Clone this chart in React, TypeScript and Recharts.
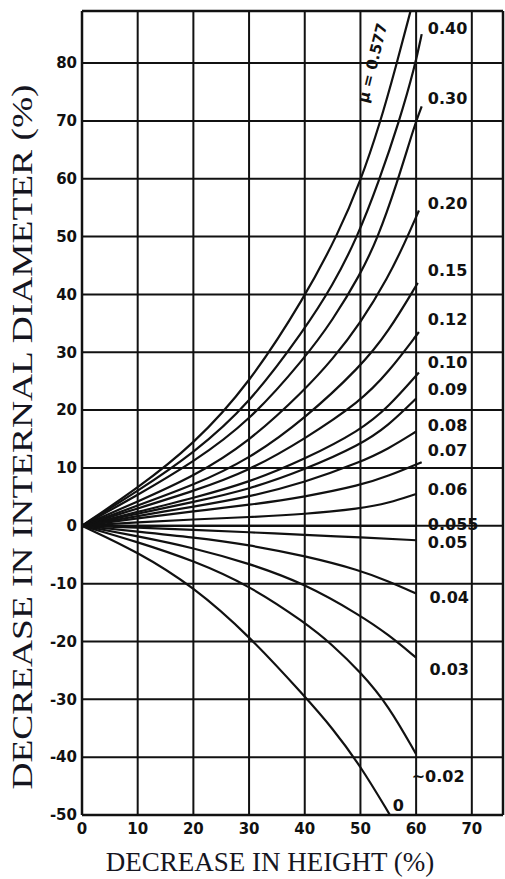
import { CartesianGrid, ComposedChart, Label, Line, ReferenceLine, Scatter, XAxis, YAxis } from 'recharts';

// friction factor curves, [decrease in height %, decrease in internal diameter %]
const MU_0577 = [[0, 0], [10, 6.5], [20, 14], [30, 24.5], [40, 39.5], [46, 50.5], [50, 59.5], [53.5, 69.5], [56.4, 79.5], [59, 89]];
const MU_040 = [[0, 0], [10, 6], [20, 12.5], [30, 21], [40, 34], [45, 41.5], [49.5, 50], [53.3, 59.5], [57, 70], [59.8, 79.5], [61, 85]];
const MU_030 = [[0, 0], [10, 5.3], [20, 11], [30, 18], [40, 29], [45, 35.5], [50, 43.5], [53, 49.5], [56.5, 59], [59.8, 69.5], [61, 72.5]];
const MU_020 = [[0, 0], [10, 4.2], [20, 8.5], [30, 14.5], [40, 23.5], [45, 28.8], [50, 35], [55, 43], [58, 49], [60.5, 54.5]];
const MU_015 = [[0, 0], [10, 3.5], [20, 7], [30, 11.5], [40, 18.5], [50, 27.5], [55, 33.5], [60.3, 42]];
const MU_012 = [[0, 0], [10, 3], [20, 6], [30, 9.5], [40, 15], [50, 21.5], [55, 26.5], [60.5, 33.5]];
const MU_010 = [[0, 0], [10, 2.4], [20, 4.8], [30, 7.5], [40, 11.5], [50, 16.5], [55, 20.5], [60.5, 26.5]];
const MU_009 = [[0, 0], [10, 2.1], [20, 4.1], [30, 6.3], [40, 9.7], [50, 14], [55, 17.3], [60, 22]];
const MU_008 = [[0, 0], [10, 1.7], [20, 3.3], [30, 5], [40, 7.5], [50, 11], [55, 13.3], [60, 16.3]];
const MU_007 = [[0, 0], [10, 1.3], [20, 2.5], [30, 3.6], [40, 5], [50, 7], [55, 8.6], [61, 11]];
const MU_006 = [[0, 0], [10, 0.6], [20, 1.1], [30, 1.5], [40, 2], [50, 3], [55, 3.9], [60, 5.5]];
const MU_0055 = [[0, 0], [30, 0], [60, 0]];
const MU_005 = [[0, 0], [10, -0.3], [20, -0.7], [30, -1.1], [40, -1.6], [50, -2], [60, -2.5]];
const MU_004 = [[0, 0], [10, -1], [20, -2], [30, -3.3], [40, -5.2], [50, -7.7], [55, -9.6], [60, -11.7]];
const MU_003 = [[0, 0], [10, -1.8], [20, -3.8], [30, -6.5], [40, -10], [50, -15.5], [55, -18.8], [60, -22.8]];
const MU_002 = [[0, 0], [10, -2.8], [20, -6], [30, -10.3], [40, -16.7], [45, -20.6], [50, -25.3], [55, -31], [60, -39.5]];
const MU_0 = [[0, 0], [10, -4.5], [20, -10.5], [30, -19], [40, -29.5], [45, -35], [50, -41.5], [55.3, -50]];

const CURVES = [MU_0577, MU_040, MU_030, MU_020, MU_015, MU_012, MU_010, MU_009, MU_008, MU_007, MU_006, MU_0055, MU_005, MU_004, MU_003, MU_002, MU_0];

// curve labels at the right of the chart
const LABEL_TEXT = ['0.40', '0.30', '0.20', '0.15', '0.12', '0.10', '0.09', '0.08', '0.07', '0.06', '0.055', '0.05', '0.04', '0.03', '~0.02', '0'];
const LABEL_X = [62.1, 62.1, 62.1, 62.1, 62.1, 62.1, 62.1, 62.1, 62.1, 62.1, 62.1, 62.1, 62.4, 62.4, 59.2, 55.8];
const LABEL_Y = [86, 73.9, 55.8, 44.2, 35.6, 28.2, 23.5, 17.4, 13, 6.3, 0.2, -2.9, -12.4, -24.8, -43.3, -48.3];

const MU_LABEL = [{ x: 52.2, y: 80, text: 'μ = 0.577' }];

const X_TICKS = [0, 10, 20, 30, 40, 50, 60, 70];
const Y_TICKS = [-50, -40, -30, -20, -10, 0, 10, 20, 30, 40, 50, 60, 70, 80];

const INK = '#111';
const labelFont = { fontFamily: '"DejaVu Sans", sans-serif', fontWeight: 700, fontSize: 16, fill: INK };

const toPoints = (pts: number[][]) => pts.map(([x, y]) => ({ x, y }));
const labels = LABEL_TEXT.map((text, i) => ({ x: LABEL_X[i], y: LABEL_Y[i], text }));

const CurveLabel = (props: any) => (
  <text x={props.cx} y={props.cy} dominantBaseline="central" style={labelFont}>
    {props.payload.text}
  </text>
);

const MuLabel = (props: any) => (
  <text
    x={props.cx}
    y={props.cy}
    textAnchor="middle"
    dominantBaseline="central"
    transform={`rotate(-76 ${props.cx} ${props.cy})`}
    style={{ ...labelFont, fontSize: 15 }}
  >
    {props.payload.text}
  </text>
);

const titleStyle = { fontFamily: '"Liberation Serif", "Times New Roman", serif', fill: '#15151f' };

export default function App() {
  return (
    <div style={{ position: 'absolute', left: 0, top: 0, width: 505, height: 879, background: '#fff', overflow: 'hidden' }}>
      <ComposedChart width={505} height={879} margin={{ top: 11, right: 2, bottom: 34, left: 22 }}>
        <CartesianGrid stroke={INK} strokeWidth={2} strokeDasharray="" />
        <XAxis
          type="number"
          dataKey="x"
          domain={[0, 75.6]}
          ticks={X_TICKS}
          allowDataOverflow
          height={30}
          tickSize={0}
          tickMargin={8}
          axisLine={{ stroke: INK, strokeWidth: 2.5 }}
          tick={{ ...labelFont, fontSize: 15 }}
        >
          <Label
            content={() => (
              <text x={270} y={871} textAnchor="middle" style={{ ...titleStyle, fontSize: 27 }}>
                DECREASE IN HEIGHT (%)
              </text>
            )}
          />
        </XAxis>
        <YAxis
          type="number"
          dataKey="y"
          domain={[-50, 89]}
          ticks={Y_TICKS}
          allowDataOverflow
          width={60}
          tickSize={0}
          tickMargin={5}
          axisLine={{ stroke: INK, strokeWidth: 2.5 }}
          tick={{ ...labelFont, fontSize: 15 }}
        >
          <Label
            content={() => (
              <text
                x={32}
                y={437}
                textAnchor="middle"
                transform="rotate(-90 32 437)"
                textLength={705}
                lengthAdjust="spacingAndGlyphs"
                style={{ ...titleStyle, fontSize: 30 }}
              >
                DECREASE IN INTERNAL DIAMETER (%)
              </text>
            )}
          />
        </YAxis>
        <ReferenceLine y={89} stroke={INK} strokeWidth={2.5} />
        <ReferenceLine x={75.6} stroke={INK} strokeWidth={2.5} />
        {CURVES.map((pts, i) => (
          <Line
            key={i}
            data={toPoints(pts)}
            dataKey="y"
            type="basis"
            dot={false}
            stroke={INK}
            strokeWidth={2.2}
            isAnimationActive={false}
          />
        ))}
        <Scatter data={labels} shape={CurveLabel} isAnimationActive={false} />
        <Scatter data={MU_LABEL} shape={MuLabel} isAnimationActive={false} />
      </ComposedChart>
    </div>
  );
}
